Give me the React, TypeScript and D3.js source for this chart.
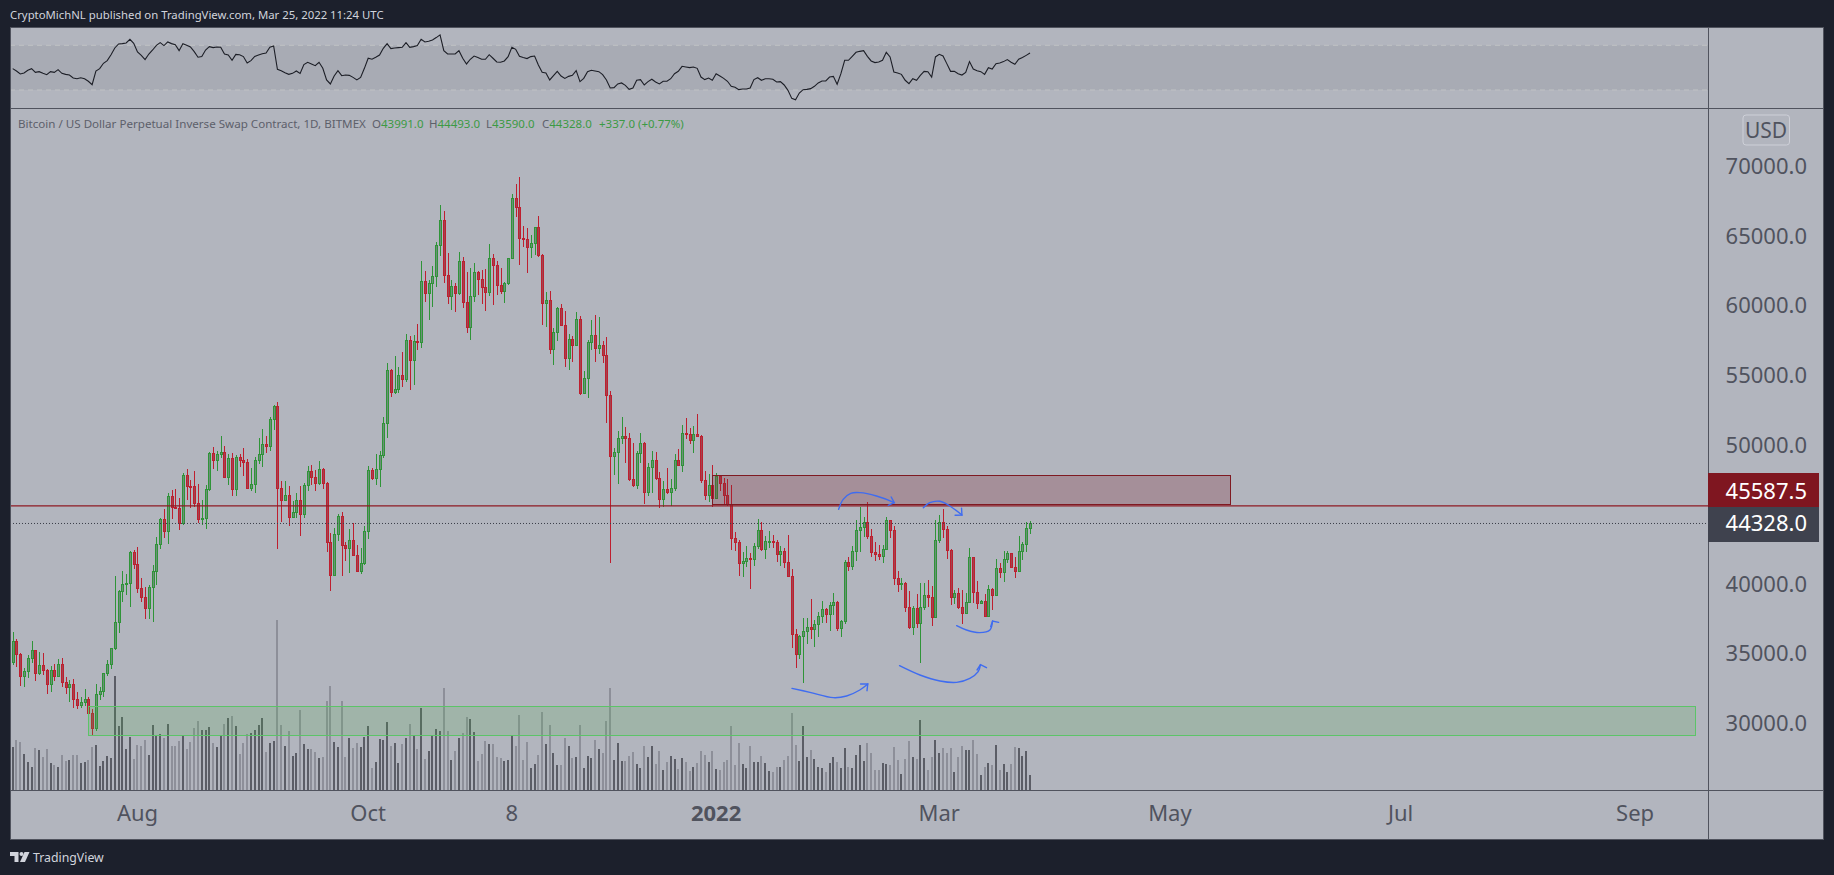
import * as d3 from 'd3';

// daily closes, highs and lows, 29 Jun 2021 -> 25 Mar 2022
const firstOpen = 34410;
const closes = [
  35890, 34980, 33400, 33740, 34650, 35220, 33620, 34140, 33780, 32780, 33810, 33400, 34220, 32970, 32610, 32800, 31750, 31290, 31490, 31730,
  30740, 29670, 32060, 32280, 33570, 34220, 35360, 37230, 39480, 39980, 40030, 42260, 41400, 39720, 39070, 38240, 39740, 40920, 42830, 44650,
  43810, 46300, 45540, 45470, 44340, 47790, 47050, 47000, 45820, 44630, 44700, 46780, 49370, 48870, 49300, 49440, 47640, 49030, 46780, 49080,
  48910, 48770, 46900, 47140, 48870, 49300, 50010, 49920, 51810, 52740, 46850, 46040, 46350, 44820, 45130, 45990, 44990, 47070, 48080, 47690,
  47260, 48220, 47210, 42980, 40650, 43550, 44870, 42810, 42590, 43120, 42090, 40940, 41470, 43770, 48150, 47620, 48220, 49220, 51520, 55330,
  53800, 53960, 54970, 54730, 57480, 56050, 57410, 57390, 61720, 60900, 61570, 62080, 64300, 66120, 62200, 60690, 61360, 60900, 63150, 60260,
  58460, 60640, 62360, 61910, 61330, 60980, 63370, 62910, 61480, 61050, 61570, 63370, 67680, 67030, 64850, 64780, 64160, 64450, 65600, 63630,
  60140, 60350, 56880, 58050, 59780, 58600, 56240, 57550, 57170, 58990, 53720, 54750, 57340, 57840, 56950, 57170, 56450, 53580, 49200, 49440,
  50440, 50590, 50490, 47550, 47120, 49370, 50080, 46610, 48360, 48860, 47590, 46110, 46780, 46610, 46850, 48860, 48550, 50800, 50780, 50350,
  50730, 50630, 47470, 46400, 47070, 46180, 47740, 47260, 46400, 45700, 43310, 43000, 41510, 41610, 41820, 41750, 42690, 43840, 42520, 43050,
  43050, 43020, 42160, 42330, 41590, 40560, 36370, 34980, 36220, 36580, 36870, 36770, 37110, 37680, 38190, 37850, 38470, 38670, 36850, 37300,
  41560, 41280, 42330, 43840, 44050, 44440, 43450, 42310, 42160, 41990, 42500, 44560, 43840, 40440, 39960, 40030, 38350, 36920, 38260, 37210,
  38310, 39190, 39070, 37640, 43140, 44410, 43910, 42400, 39070, 39310, 38350, 37920, 38670, 41900, 39410, 38640, 38740, 37710, 39600, 39220,
  41110, 40870, 41750, 42190, 41230, 40940, 42330, 42860, 43991, 44328,
];
const highs = [
  36540, 36010, 35010, 33930, 34890, 35870, 35220, 35100, 35010, 33880, 34100, 34240, 34570, 34650, 33280, 33090, 33140, 32200, 31840, 32440,
  31840, 31010, 32800, 32560, 33600, 34530, 35400, 40560, 39550, 40920, 40700, 42350, 42430, 42640, 40390, 39770, 39910, 41320, 43360, 44720,
  45370, 46540, 46730, 46810, 46140, 47960, 48240, 47450, 48100, 47140, 46020, 47070, 49440, 49820, 49540, 50610, 49890, 49320, 49390, 49250,
  49320, 49750, 48960, 48310, 49080, 50470, 51120, 50640, 51980, 52840, 53050, 47380, 47360, 47020, 45970, 46520, 47050, 47240, 48460, 48530,
  48170, 48790, 48310, 47310, 43670, 44010, 45010, 45150, 43000, 43930, 44360, 42760, 42570, 44150, 48460, 48290, 49320, 49540, 51980, 55860,
  55400, 56360, 55570, 56670, 57960, 57790, 57870, 58660, 63180, 62460, 61810, 62820, 64520, 67200, 66770, 63750, 61810, 61600, 63820, 63460,
  62390, 62670, 63030, 62460, 62530, 62600, 64400, 63680, 63180, 62670, 61670, 63400, 67990, 68710, 69190, 65690, 65520, 65040, 65650, 66410,
  63660, 60930, 61020, 58370, 59850, 60090, 59560, 57910, 57770, 59490, 59200, 55250, 57480, 58920, 59280, 59130, 57410, 57720, 53820, 49730,
  50950, 51950, 51230, 50830, 50110, 49530, 50830, 50180, 48650, 49530, 49460, 48030, 47380, 48310, 47520, 49290, 49650, 51400, 51900, 51190,
  51310, 52190, 50700, 48100, 47880, 48530, 47950, 47800, 47570, 47520, 47090, 43720, 43140, 42260, 42710, 42180, 42950, 44650, 44430, 43430,
  43790, 43500, 43140, 42710, 42570, 43500, 41040, 36750, 36300, 37540, 37540, 38900, 37400, 38000, 38760, 38260, 38710, 39340, 38740, 37400,
  41710, 41900, 42710, 44580, 45510, 44820, 45870, 43930, 42980, 42780, 42780, 44820, 44600, 44150, 40890, 40390, 40100, 39480, 38400, 39240,
  40050, 40030, 40270, 39840, 44580, 44940, 45370, 44150, 42470, 39530, 39670, 39550, 39340, 42570, 41950, 40200, 38800, 39240, 39910, 39670,
  41780, 41470, 42380, 42380, 42230, 41950, 43430, 43000, 44410, 44493,
];
const lows = [
  34170, 34050, 32660, 32610, 33260, 34330, 33020, 33470, 33430, 32080, 32250, 33020, 33330, 32590, 32080, 31530, 31080, 31010, 31100, 31220,
  30410, 29160, 29450, 31650, 31890, 33380, 33880, 35240, 36440, 38710, 39190, 38360, 41060, 39340, 38710, 37490, 37450, 37280, 39910, 42520,
  43290, 42860, 44650, 45370, 43860, 44220, 46020, 45440, 45490, 44390, 44240, 43960, 46690, 48240, 48100, 49060, 47600, 47090, 46330, 46330,
  48390, 47740, 46810, 46690, 46540, 48600, 48410, 49420, 49560, 51040, 42520, 44460, 45940, 44170, 44750, 44750, 43450, 44750, 46690, 47070,
  46690, 47070, 46810, 42310, 39500, 40560, 43100, 40580, 41660, 40770, 42000, 40870, 40700, 41370, 43240, 47450, 47090, 46970, 49060, 50490,
  53410, 53650, 53730, 54160, 54490, 53940, 54300, 56790, 56930, 60230, 58960, 59870, 61310, 63540, 61620, 60110, 59660, 59510, 60740, 59800,
  58030, 57500, 60230, 60740, 60090, 59590, 60660, 60020, 60740, 60810, 60160, 61450, 63340, 66340, 62890, 64180, 62320, 63420, 63610, 63490,
  58580, 58440, 56500, 55710, 57430, 58530, 55560, 55350, 55920, 57100, 53550, 53720, 53340, 56790, 55920, 56500, 55850, 51540, 41510, 47830,
  47160, 50040, 48670, 47380, 46950, 46800, 48670, 45730, 46300, 46520, 47470, 45460, 45540, 46450, 45580, 46680, 48480, 48050, 50420, 50040,
  49390, 50520, 47240, 46010, 45870, 45540, 46130, 46660, 45680, 45580, 42420, 42350, 40560, 40510, 41230, 39650, 41300, 42500, 42380, 41800,
  42570, 42570, 41560, 41270, 41150, 40510, 35410, 33970, 34620, 32900, 35670, 36000, 35480, 36180, 37160, 37210, 36610, 37730, 36610, 36180,
  37090, 40920, 40990, 41630, 42310, 43330, 43190, 41920, 41630, 41710, 41490, 42400, 43290, 39910, 39410, 39550, 37970, 36750, 36320, 36800,
  34330, 38120, 38360, 36990, 37590, 42900, 43260, 41800, 38500, 38550, 38210, 37110, 37830, 38590, 38590, 38190, 38600, 37590, 37590, 38120,
  39190, 40440, 40130, 41470, 41180, 40410, 40840, 41710, 42280, 43590,
];
// volume in relative units (no volume scale shown on the chart)
const volumes = [
  130, 151, 143, 109, 85, 70, 127, 121, 100, 124, 82, 76, 70, 106, 88, 91, 106, 106, 82, 85,
  91, 130, 136, 73, 88, 103, 97, 343, 193, 220, 124, 160, 94, 136, 133, 151, 106, 196, 166, 169,
  157, 199, 133, 133, 148, 163, 124, 145, 187, 208, 181, 181, 190, 142, 130, 163, 199, 217, 223, 193,
  109, 142, 169, 172, 181, 196, 217, 115, 142, 148, 511, 196, 133, 178, 103, 112, 241, 139, 124, 124,
  115, 97, 100, 268, 313, 145, 130, 268, 100, 157, 127, 142, 130, 160, 193, 67, 85, 154, 151, 205,
  133, 142, 82, 139, 157, 199, 166, 124, 247, 94, 118, 166, 184, 178, 307, 178, 91, 118, 157, 172,
  220, 214, 175, 88, 109, 148, 139, 139, 100, 97, 88, 91, 163, 133, 226, 91, 145, 67, 79, 106,
  235, 139, 196, 112, 76, 76, 157, 133, 97, 100, 196, 67, 103, 97, 151, 124, 112, 208, 307, 91,
  142, 88, 88, 103, 115, 79, 67, 133, 100, 133, 79, 118, 61, 85, 103, 94, 64, 97, 85, 58,
  70, 82, 118, 106, 85, 118, 64, 61, 85, 91, 193, 76, 142, 79, 67, 133, 85, 85, 103, 82,
  58, 55, 70, 70, 91, 103, 232, 136, 88, 193, 100, 121, 94, 70, 67, 55, 82, 100, 85, 67,
  127, 70, 67, 106, 136, 88, 142, 112, 61, 61, 82, 79, 76, 130, 91, 49, 94, 148, 100, 94,
  211, 97, 61, 100, 151, 112, 127, 112, 127, 55, 100, 133, 121, 121, 151, 109, 46, 70, 82, 76,
  136, 61, 79, 55, 79, 130, 127, 103, 118, 46,
];
const rsi = [
  49.1, 47.0, 44.3, 45.2, 47.6, 49.1, 45.8, 46.4, 44.9, 43.7, 46.4, 45.8, 48.2, 44.9, 44.0, 43.4, 40.7, 40.1, 41.0, 40.1,
  37.8, 34.8, 47.0, 49.1, 53.9, 56.3, 61.6, 67.6, 71.2, 71.5, 72.1, 75.4, 71.8, 64.0, 61.0, 57.2, 62.2, 65.8, 70.0, 72.4,
  69.7, 73.0, 71.5, 70.6, 65.2, 71.5, 70.0, 68.5, 64.3, 59.3, 59.9, 65.8, 68.8, 67.9, 68.5, 68.2, 62.2, 61.3, 56.6, 61.9,
  61.6, 59.9, 54.2, 56.3, 60.1, 61.3, 62.5, 63.1, 68.2, 69.4, 48.5, 47.3, 45.5, 44.0, 44.9, 47.0, 44.9, 52.7, 54.8, 53.3,
  51.8, 54.8, 49.4, 39.0, 35.4, 42.5, 47.3, 42.8, 43.4, 43.1, 41.3, 39.0, 41.3, 49.4, 58.4, 57.5, 59.3, 61.3, 67.3, 71.5,
  67.0, 67.6, 67.9, 68.2, 72.4, 68.2, 68.8, 69.7, 75.4, 73.0, 73.6, 74.8, 76.9, 79.3, 65.2, 62.2, 62.2, 62.2, 65.2, 58.4,
  53.3, 57.5, 60.4, 59.0, 57.5, 57.5, 61.6, 58.4, 55.1, 54.8, 56.0, 59.9, 68.2, 66.4, 60.1, 59.0, 58.1, 59.9, 60.4, 52.4,
  45.8, 45.2, 39.0, 42.8, 46.7, 42.5, 40.4, 42.2, 43.1, 47.3, 37.5, 40.4, 46.4, 47.6, 47.0, 46.4, 43.7, 39.0, 31.8, 32.1,
  35.4, 36.3, 34.2, 30.6, 31.8, 38.7, 39.3, 34.5, 37.5, 39.6, 37.2, 35.4, 37.8, 37.8, 40.1, 44.6, 46.7, 51.2, 50.6, 50.0,
  50.6, 49.4, 41.6, 39.3, 40.7, 38.7, 44.6, 42.5, 40.4, 37.8, 33.3, 32.4, 30.3, 30.9, 30.9, 31.8, 39.3, 41.0, 38.7, 40.1,
  40.1, 39.6, 37.2, 37.5, 34.5, 29.7, 22.5, 21.3, 27.3, 30.3, 30.6, 31.2, 33.3, 36.3, 38.1, 38.1, 41.6, 42.2, 35.1, 44.6,
  56.6, 56.6, 60.1, 63.7, 64.6, 65.2, 60.1, 56.0, 54.5, 55.1, 56.6, 63.7, 59.6, 46.1, 45.2, 44.0, 38.7, 35.7, 40.1, 38.7,
  43.1, 46.7, 46.4, 41.6, 59.6, 61.9, 60.4, 53.6, 46.7, 46.7, 44.6, 43.4, 45.8, 55.4, 48.8, 47.3, 46.4, 44.0, 50.0, 48.8,
  53.6, 54.2, 55.4, 57.2, 54.8, 53.0, 57.5, 59.0, 61.0, 63.1,
];

const priceTicks = [70000, 65000, 60000, 55000, 50000, 40000, 35000, 30000];
const timeTicks: [string, string, boolean][] = [
  ['2021-08-01', 'Aug', false],
  ['2021-10-01', 'Oct', false],
  ['2021-11-08', '8', false],
  ['2022-01-01', '2022', true],
  ['2022-03-01', 'Mar', false],
  ['2022-05-01', 'May', false],
  ['2022-07-01', 'Jul', false],
  ['2022-09-01', 'Sep', false],
];
const startDate = new Date('2021-06-29T00:00:00Z');

const lastPrice = 44328;
const levelPrice = 45587.5;
// [day index from start, price]
const redZone = { from: 185, to: 322.1, top: 47790, bottom: 45680 };
const greenZone = { from: 20, to: 445, top: 31223, bottom: 29162 };

const swoops: { curve: [number, number][]; head: [number, number][] }[] = [
  {
    curve: [[206.06, 32489], [210.8, 32202], [217, 31819], [220.5, 31938], [224, 32369], [226.1, 32800]],
    head: [[224.2, 32800], [226.1, 32800], [225.9, 32321]],
  },
  {
    curve: [[234.5, 34117], [239.9, 33447], [245.2, 33016], [249.6, 32920], [253.1, 33207], [255.3, 33686], [255.9, 34189]],
    head: [[255, 33806], [255.9, 34189], [257.5, 33974]],
  },
  {
    curve: [[249.6, 36990], [252.2, 36679], [255.7, 36487], [258.4, 36679], [259.1, 37325]],
    head: [[258.6, 36918], [259.1, 37325], [260.7, 37229]],
  },
  {
    curve: [[218.4, 45345], [219.6, 46063], [221.6, 46494], [224, 46542], [228.4, 46302], [233.1, 45824]],
    head: [[232.3, 46231], [233.1, 45824], [231.5, 45632]],
  },
  {
    curve: [[240.8, 45465], [242.5, 45824], [245.2, 45920], [247.8, 45584], [251, 44938]],
    head: [[250.9, 45417], [251, 44938], [249.2, 44914]],
  },
];

const W = 1834;
const H = 875;
const frame = { left: 10, top: 27, right: 1823, bottom: 839, paneSplit: 108, axisY: 790, axisX: 1708 };
const FONT = '"Noto Sans", sans-serif';
const UP = '#2f9438';
const DOWN = '#be1f2f';

export default function App() {
  const x = d3.scaleLinear().domain([0, 269]).range([12.7, 1030]);
  const y = d3.scaleLinear().domain([70000, 30000]).range([166, 723]);
  const vol = d3.scaleLinear().domain([0, 510]).range([frame.axisY, frame.axisY - 170]);
  const rsiY = d3.scaleLinear().domain([70, 30]).range([45.3, 90]);

  const opens = closes.map((_, i) => (i === 0 ? firstOpen : closes[i - 1]));
  const px = (i: number) => Math.round(x(i)) + 0.5;
  const py = (v: number) => Math.round(y(v)) + 0.5;

  const rsiLine = d3
    .line<number>()
    .x((_, i) => x(i))
    .y((d) => rsiY(d));
  const swoopLine = d3
    .line<[number, number]>()
    .x((d) => x(d[0]))
    .y((d) => y(d[1]))
    .curve(d3.curveCatmullRom);
  const headLine = d3
    .line<[number, number]>()
    .x((d) => x(d[0]))
    .y((d) => y(d[1]));

  const legendValues = [
    ['O', '43991.0', 372],
    ['H', '44493.0', 429],
    ['L', '43590.0', 486],
    ['C', '44328.0', 542],
  ] as const;

  return (
    <>
      <style>{`body{margin:0;background:#1c202c}`}</style>
      <svg width={W} height={H} style={{ display: 'block', background: '#1c202c' }} fontFamily={FONT}>
        <text x={10} y={19} fontSize={11.35} fill="#d1d4dc">
          CryptoMichNL published on TradingView.com, Mar 25, 2022 11:24 UTC
        </text>

        <rect x={frame.left} y={frame.top} width={frame.right - frame.left} height={frame.bottom - frame.top} fill="#b2b5be" />

        {/* RSI pane */}
        <rect x={frame.left} y={rsiY(70)} width={frame.axisX - frame.left} height={rsiY(30) - rsiY(70)} fill="#a8abb4" />
        {[70, 30].map((v) => (
          <line key={v} x1={frame.left} x2={frame.axisX} y1={rsiY(v)} y2={rsiY(v)} stroke="#c0c2c4" strokeDasharray="5 4" />
        ))}
        <path d={rsiLine(rsi) ?? ''} fill="none" stroke="#1c1e26" strokeWidth={1.1} />

        {/* volume */}
        <g shapeRendering="crispEdges">
          {volumes.map((v, i) => (
            <rect
              key={i}
              x={Math.round(x(i)) - 1}
              y={vol(v)}
              width={2}
              height={frame.axisY - vol(v)}
              fill={closes[i] >= opens[i] ? '#5b5d66' : '#8d8f99'}
            />
          ))}
        </g>

        {/* candles */}
        <g shapeRendering="crispEdges">
          {closes.map((c, i) => {
            const up = c >= opens[i];
            const col = up ? UP : DOWN;
            const top = py(Math.max(c, opens[i]));
            const bottom = py(Math.min(c, opens[i]));
            return (
              <g key={i}>
                <line x1={px(i)} x2={px(i)} y1={y(highs[i])} y2={y(lows[i])} stroke={col} />
                <rect
                  x={px(i) - 1}
                  y={top}
                  width={2}
                  height={Math.max(bottom - top, 1)}
                  fill={up ? '#6c8f78' : '#a2434f'}
                  stroke={col}
                />
              </g>
            );
          })}
        </g>

        {/* zones */}
        <rect
          x={Math.round(x(redZone.from)) + 0.5}
          y={Math.round(y(redZone.top)) + 0.5}
          width={Math.round(x(redZone.to) - x(redZone.from))}
          height={Math.round(y(redZone.bottom) - y(redZone.top))}
          fill="rgba(128,30,44,0.25)"
          stroke="#7f1a22"
          strokeWidth={1}
        />
        <rect
          x={Math.round(x(greenZone.from)) + 0.5}
          y={Math.round(y(greenZone.top)) + 0.5}
          width={Math.round(x(greenZone.to) - x(greenZone.from))}
          height={Math.round(y(greenZone.bottom) - y(greenZone.top))}
          fill="rgba(76,175,80,0.18)"
          stroke="#5cc468"
          strokeWidth={1}
        />

        {/* price lines */}
        <line x1={frame.left} x2={frame.axisX} y1={y(levelPrice)} y2={y(levelPrice)} stroke="#8e1a23" strokeWidth={1.2} />
        <line x1={frame.left} x2={frame.axisX - 2} y1={y(lastPrice)} y2={y(lastPrice)} stroke="#3a3d48" strokeDasharray="1 2" />

        {/* hand drawn arrows */}
        <g fill="none" stroke="#3f6cf0" strokeWidth={1.4} strokeLinecap="round">
          {swoops.map((s, i) => (
            <g key={i}>
              <path d={swoopLine(s.curve) ?? ''} />
              <path d={headLine(s.head) ?? ''} />
            </g>
          ))}
        </g>

        {/* legend */}
        <text x={18} y={128} fontSize={11.6} fill="#5d606b">
          Bitcoin / US Dollar Perpetual Inverse Swap Contract, 1D, BITMEX
        </text>
        {legendValues.map(([k, v, lx]) => (
          <text key={k} x={lx} y={128} fontSize={11.5} fill="#3c9a44">
            <tspan fill="#5d606b">{k}</tspan>
            {v}
          </text>
        ))}
        <text x={599} y={128} fontSize={11.5} fill="#3c9a44">
          +337.0 (+0.77%)
        </text>

        {/* frame lines */}
        <g stroke="#50535e" fill="none" shapeRendering="crispEdges">
          <rect x={frame.left} y={frame.top} width={frame.right - frame.left} height={frame.bottom - frame.top} />
          <line x1={frame.left} x2={frame.right} y1={frame.paneSplit} y2={frame.paneSplit} />
          <line x1={frame.left} x2={frame.right} y1={frame.axisY} y2={frame.axisY} />
          <line x1={frame.axisX} x2={frame.axisX} y1={frame.top} y2={frame.bottom} />
        </g>

        {/* price axis */}
        <rect x={1743} y={115} width={46.5} height={30} rx={3} fill="none" stroke="#ced0d8" />
        <text x={1766} y={138} textAnchor="middle" fontSize={21} fill="#50535e">
          USD
        </text>
        {priceTicks.map((t) => (
          <text key={t} x={1807} y={y(t) + 8} textAnchor="end" fontSize={22} fill="#50535e">
            {t.toFixed(1)}
          </text>
        ))}
        <rect x={frame.axisX} y={473} width={111} height={34} fill="#7f1620" />
        <text x={1807} y={y(levelPrice) - 7} textAnchor="end" fontSize={22} fill="#ffffff">
          {levelPrice.toFixed(1)}
        </text>
        <rect x={frame.axisX} y={507} width={111} height={35} fill="#3f424e" />
        <text x={1807} y={y(lastPrice) + 8} textAnchor="end" fontSize={22} fill="#ffffff">
          {lastPrice.toFixed(1)}
        </text>

        {/* time axis */}
        {timeTicks.map(([d, label, bold]) => (
          <text
            key={label}
            x={x(d3.utcDay.count(startDate, new Date(d + 'T00:00:00Z')))}
            y={821}
            textAnchor="middle"
            fontSize={22}
            fontWeight={bold ? 700 : 400}
            fill="#50535e"
          >
            {label}
          </text>
        ))}

        {/* logo */}
        <g fill="#d1d4dc">
          <path d="M10 852h8.5v10h-4v-6h-4.500z" />
          <circle cx={21.500} cy={854} r={2} />
          <path d="M24.500 852h5l-4.500 10h-5z" />
        </g>
        <text x={33} y={862} fontSize={12.3} fill="#d1d4dc">
          TradingView
        </text>
      </svg>
    </>
  );
}
